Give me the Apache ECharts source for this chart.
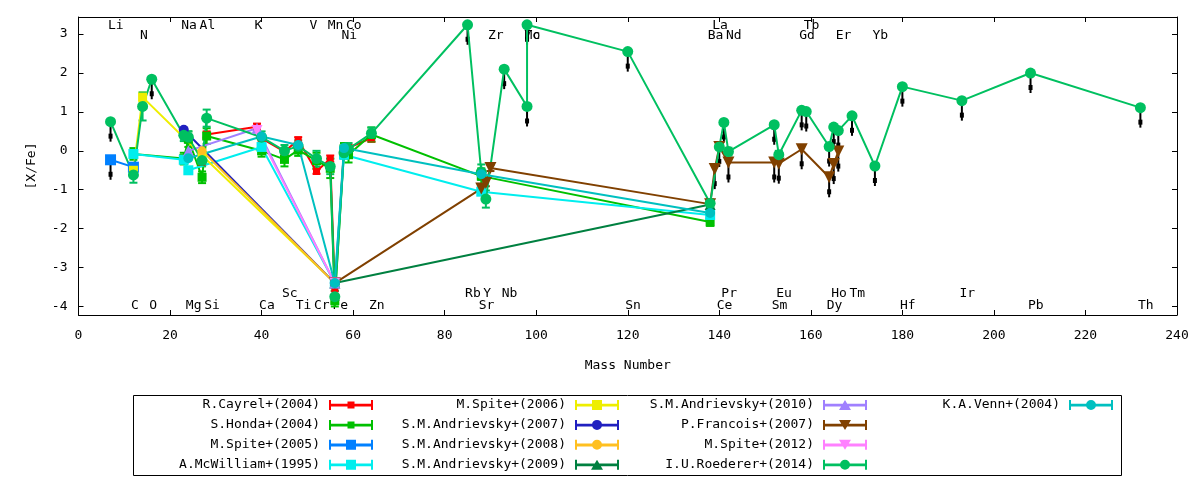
<!DOCTYPE html>
<html><head><meta charset="utf-8">
<script src="https://cdn.jsdelivr.net/npm/echarts@6/dist/echarts.min.js"></script>
<style>html,body{margin:0;padding:0;background:#fff}#c{width:1200px;height:480px}</style>
</head><body><div id="c"></div>
<script>
// ---------- element labels (mass number, label row) ----------
const elemNames = ['Li','C','N','O','Na','Mg','Al','Si','K','Ca','Sc','Ti','V','Cr','Mn','Fe','Ni','Co','Zn','Rb','Sr','Y','Zr','Nb','Mo','Tc','Sn','Ba','La','Ce','Pr','Nd','Sm','Eu','Gd','Tb','Dy','Ho','Er','Tm','Yb','Hf','Ir','Pb','Th'];
const elemMass  = [7,12,14,16,23,24,27,28,39,40,45,48,51,52,55,56,58,59,64,85,88,89,90,93,98,98,120,138,139,140,141,142,152,153,158,159,164,165,166,169,174,180,193,208,232];
const elemRow   = [0,3,1,3,0,3,0,3,0,3,2,3,0,3,0,3,1,0,3,2,3,2,1,2,1,1,3,1,0,3,2,1,3,2,1,0,3,2,1,2,1,3,2,3,3];
const rowY      = [3.22, 2.98, -3.66, -3.97];

// ---------- axis ticks ----------
const xTicks = [0,20,40,60,80,100,120,140,160,180,200,220,240];
const yTicks = [-4,-3,-2,-1,0,1,2,3];

// ---------- series values ----------
const cayrelEl  = ['Al','Si','K','Ca','Sc','Ti','Cr','Mn','Fe','Ni','Co','Zn'];
const cayrelVal = [-0.30,0.42,0.62,0.32,-0.02,0.28,-0.53,-0.20,-3.55,0.02,0.08,0.33];
const cayrelErr = [0.08,0.08,0.08,0.06,0.07,0.07,0.06,0.08,0.05,0.07,0.07,0.10];
const cayrelUL  = [];

const hondaEl  = ['C','Na','Mg','Al','Si','Ca','Sc','Ti','Cr','Mn','Fe','Ni','Co','Zn','Sr','Ba'];
const hondaVal = [-0.08,-0.20,0.30,-0.68,0.38,0.00,-0.22,0.02,-0.25,-0.45,-3.85,0.05,-0.10,0.42,-0.65,-1.83];
const hondaErr = [0.15,0.15,0.20,0.15,0.20,0.15,0.18,0.15,0.20,0.25,0.15,0.15,0.20,0.18,0.20,0.10];
const hondaUL  = [];

const spite05El  = ['Li','C'];
const spite05Val = [-0.23,-0.42];
const spite05Err = [0,0];
const spite05UL  = ['Li'];

const mcwEl  = ['C','Na','Mg','Ca','Fe','Ni','Sr','Ba'];
const mcwVal = [-0.08,-0.23,-0.50,0.10,-3.40,-0.10,-1.05,-1.65];
const mcwErr = [0.05,0.05,0.08,0.05,0,0.05,0.05,0.05];
const mcwUL  = [];

const spite06El  = ['C','N','Al','Fe'];
const spite06Val = [-0.50,1.38,-0.12,-3.40];
const spite06Err = [0.10,0.12,0.08,0];
const spite06UL  = [];

const andr07El  = ['Na','Fe'];
const andr07Val = [0.54,-3.40];
const andr08El  = ['Al','Fe'];
const andr08Val = [0.00,-3.40];
const andr09El  = ['Fe','Ba'];
const andr09Val = [-3.40,-1.38];
const andr10El  = ['Mg','K','Fe'];
const andr10Val = [0.00,0.58,-3.40];

const franEl  = ['Fe','Sr','Y','Zr','Ba','La','Ce','Nd','Sm','Eu','Gd','Dy','Ho','Er'];
const franVal = [-3.40,-0.97,-0.83,-0.44,-1.37,-0.47,0.10,-0.30,-0.30,-0.33,0.04,-0.68,-0.34,-0.02];
const franErr = [0,0.08,0.08,0.08,0.05,0,0.05,0,0,0,0,0,0,0];
const franUL  = ['La','Nd','Sm','Eu','Gd','Dy','Ho','Er'];

const spite12El  = ['K','Fe'];
const spite12Val = [0.52,-3.40];

const roedEl  = ['Li','C','N','O','Na','Mg','Al','Si','Ca','Sc','Ti','Cr','Mn','Fe','Ni','Co','Zn','Rb','Sr','Y','Nb','Mo','Tc','Sn','Ba','Ce','Pr','Nd','Sm','Eu','Gd','Tb','Dy','Ho','Er','Tm','Yb','Hf','Ir','Pb','Th'];
const roedVal = [0.75,-0.62,1.14,1.84,0.40,0.35,-0.25,0.84,0.35,0.00,0.12,-0.20,-0.40,-3.75,-0.05,0.05,0.45,3.24,-0.55,-1.24,2.10,1.14,3.24,2.55,-1.35,0.10,0.73,-0.02,0.67,-0.10,1.04,1.01,0.11,0.61,0.52,0.90,-0.39,1.65,1.29,2.00,1.11];
const roedErr = [0,0.20,0.36,0,0.15,0.15,0.15,0.22,0.15,0.15,0.15,0.20,0.20,0.15,0.15,0.15,0.15,0,0.20,0.22,0,0,0,0,0.10,0,0,0.10,0,0.10,0,0,0,0,0,0,0,0,0,0,0];
const roedUL  = ['Li','O','Rb','Nb','Mo','Tc','Sn','Ce','Pr','Sm','Gd','Tb','Dy','Ho','Er','Tm','Yb','Hf','Ir','Pb','Th'];

const vennEl  = ['Mg','Ca','Ti','Fe','Ni','Sr','Ba'];
const vennVal = [-0.19,0.37,0.15,-3.40,0.07,-0.60,-1.60];

// ---------- build ----------
const massOf = {};
elemNames.forEach((n,i)=>{ massOf[n] = elemMass[i]; });

const P_BAR = 'M0,0H2V10H0Z M42,0H44V10H42Z M0,3.8H44V6.6H0Z ';
const P_MARK = {
  small: 'M18.5,1.5H25.5V8.5H18.5Z',
  rect: 'M17,0H27V10H17Z',
  circle: 'M17,5A5,5 0 1,1 27,5A5,5 0 1,1 17,5Z',
  tri: 'M16,10L22,0L28,10Z',
  tridown: 'M16,0L28,0L22,10Z'
};
const zeros = a => a.map(()=>0);

const studies = [
  {name:'R.Cayrel+(2004)',       color:'#ff0000', el:cayrelEl,  val:cayrelVal,  err:cayrelErr, ul:cayrelUL, sym:'rect', size:7,  mark:'small'},
  {name:'S.Honda+(2004)',        color:'#00c000', el:hondaEl,   val:hondaVal,   err:hondaErr,  ul:hondaUL,  sym:'rect', size:9,  mark:'small'},
  {name:'M.Spite+(2005)',        color:'#0080ff', el:spite05El, val:spite05Val, err:spite05Err,ul:spite05UL,sym:'rect', size:11, mark:'rect'},
  {name:'A.McWilliam+(1995)',    color:'#00eeee', el:mcwEl,     val:mcwVal,     err:mcwErr,    ul:mcwUL,    sym:'rect', size:10, mark:'rect'},
  {name:'M.Spite+(2006)',        color:'#eeee00', el:spite06El, val:spite06Val, err:spite06Err,ul:spite06UL,sym:'rect', size:9,  mark:'rect'},
  {name:'S.M.Andrievsky+(2007)', color:'#2020c0', el:andr07El,  val:andr07Val,  err:zeros(andr07El), ul:[], sym:'circle', size:10, mark:'circle'},
  {name:'S.M.Andrievsky+(2008)', color:'#ffc020', el:andr08El,  val:andr08Val,  err:zeros(andr08El), ul:[], sym:'circle', size:9,  mark:'circle'},
  {name:'S.M.Andrievsky+(2009)', color:'#008040', el:andr09El,  val:andr09Val,  err:zeros(andr09El), ul:[], sym:'triangle', size:11, mark:'tri'},
  {name:'S.M.Andrievsky+(2010)', color:'#a080ff', el:andr10El,  val:andr10Val,  err:zeros(andr10El), ul:[], sym:'triangle', size:11, mark:'tri'},
  {name:'P.Francois+(2007)',     color:'#804000', el:franEl,    val:franVal,    err:franErr,   ul:franUL,   sym:'triangle', size:12, rot:180, mark:'tridown'},
  {name:'M.Spite+(2012)',        color:'#ff80ff', el:spite12El, val:spite12Val, err:zeros(spite12El), ul:[], sym:'triangle', size:11, rot:180, mark:'tridown'},
  {name:'I.U.Roederer+(2014)',   color:'#00c060', el:roedEl,    val:roedVal,    err:roedErr,   ul:roedUL,   sym:'circle', size:11, mark:'circle'},
  {name:'K.A.Venn+(2004)',       color:'#00c0c0', el:vennEl,    val:vennVal,    err:zeros(vennEl), ul:[], sym:'circle', size:10, mark:'circle'}
];

const FONT = 'DejaVu Sans Mono';

function errItem(params, api){
  const x = api.value(0), y = api.value(1), e = api.value(2);
  const t = api.coord([x, y+e]), b = api.coord([x, y-e]);
  const c = api.visual('color'), hw = 4;
  const st = {stroke:c, lineWidth:2};
  return {type:'group', children:[
    {type:'line', shape:{x1:t[0], y1:t[1], x2:b[0], y2:b[1]}, style:st},
    {type:'line', shape:{x1:t[0]-hw, y1:t[1], x2:t[0]+hw, y2:t[1]}, style:st},
    {type:'line', shape:{x1:b[0]-hw, y1:b[1], x2:b[0]+hw, y2:b[1]}, style:st}
  ]};
}
function ulItem(params, api){
  const p = api.coord([api.value(0), api.value(1)]);
  return {type:'group', children:[
    {type:'line', shape:{x1:p[0], y1:p[1], x2:p[0], y2:p[1]+20}, style:{stroke:'#000', lineWidth:2}},
    {type:'rect', shape:{x:p[0]-2, y:p[1]+12, width:4, height:5}, style:{fill:'#000'}}
  ]};
}
function labelItem(params, api){
  const p = api.coord([api.value(0), api.value(1)]);
  return {type:'text', x:p[0]-2.5, y:p[1]+0.5,
    style:{text:elemNames[params.dataIndex], fill:'#000', font:'13px "DejaVu Sans Mono"',
           align:'left', verticalAlign:'middle'}};
}

const series = [];
// element labels
series.push({
  type:'custom', name:'labels', silent:true, z:1, clip:false, animation:false,
  renderItem:labelItem,
  data: elemNames.map((n,i)=>[elemMass[i], rowY[elemRow[i]]])
});
// upper-limit arrows
const ulData = [];
studies.forEach(s=>{ s.el.forEach((e,i)=>{ if (s.ul.indexOf(e)>=0) ulData.push([massOf[e], s.val[i]]); }); });
series.push({type:'custom', name:'upper limits', renderItem:ulItem, data:ulData, silent:true, z:2, animation:false, clip:false});

studies.forEach(s=>{
  const ed = [];
  s.el.forEach((e,i)=>{ if (s.err[i]>0) ed.push([massOf[e], s.val[i], s.err[i]]); });
  if (ed.length) series.push({type:'custom', name:s.name+' err', renderItem:errItem, data:ed,
      itemStyle:{color:s.color}, silent:true, z:3, animation:false, clip:false});
  series.push({
    type:'line', name:s.name, z:3,
    data: s.el.map((e,i)=>[massOf[e], s.val[i]]),
    symbol:s.sym, symbolSize:s.size, symbolRotate:s.rot||0, showAllSymbol:true,
    itemStyle:{color:s.color, opacity:1}, lineStyle:{color:s.color, width:2},
    emphasis:{disabled:true}, animation:false, silent:true
  });
});

function legendCol(names, right){
  return {
    orient:'vertical', align:'right', right:right, top:398, padding:0,
    itemWidth:44, itemHeight:10, itemGap:5.9, selectedMode:false,
    textStyle:{color:'#000', fontFamily:FONT, fontSize:13, lineHeight:14, padding:[0,4,0,0]},
    data: names.map(n=>{ const s = studies.find(q=>q.name===n); return {name:n, icon:'path://'+P_BAR+P_MARK[s.mark]}; })
  };
}
const legends = [
  legendCol(studies.slice(0,4).map(s=>s.name), 827),
  legendCol(studies.slice(4,8).map(s=>s.name), 581),
  legendCol(studies.slice(8,12).map(s=>s.name), 333),
  legendCol(studies.slice(12).map(s=>s.name), 87)
];

function ax(extra){
  return Object.assign({
    axisLine:{show:true, onZero:false, lineStyle:{color:'#000', width:1}},
    axisTick:{show:true, inside:true, length:5, lineStyle:{color:'#000'}},
    splitLine:{show:false}
  }, extra);
}

const option = {
  backgroundColor:'#fff',
  animation:false,
  textStyle:{fontFamily:FONT},
  grid:{left:78.5, right:23, top:17, bottom:165, containLabel:false},
  graphic:[{type:'rect', shape:{x:133.5, y:395.5, width:988, height:80},
            style:{fill:'none', stroke:'#000', lineWidth:1}, silent:true}],
  legend: legends,
  xAxis:[
    ax({type:'value', position:'bottom', min:xTicks[0], max:xTicks[xTicks.length-1], interval:20,
      axisLabel:{color:'#000', fontFamily:FONT, fontSize:13, margin:14},
      name:'Mass Number', nameLocation:'middle', nameGap:44,
      nameTextStyle:{color:'#000', fontFamily:FONT, fontSize:13}}),
    ax({type:'value', position:'top', min:xTicks[0], max:xTicks[xTicks.length-1], interval:20,
      axisLabel:{show:false}})
  ],
  yAxis:[
    ax({type:'value', position:'left', min:-4.22, max:3.44,
      axisLabel:{color:'#000', fontFamily:FONT, fontSize:13, margin:11, customValues:yTicks},
      axisTick:{show:true, inside:true, length:5, lineStyle:{color:'#000'}, customValues:yTicks},
      name:'[X/Fe]', nameLocation:'middle', nameGap:40, nameRotate:90,
      nameTextStyle:{color:'#000', fontFamily:FONT, fontSize:13}}),
    ax({type:'value', position:'right', min:-4.22, max:3.44,
      axisLabel:{show:false},
      axisTick:{show:true, inside:true, length:5, lineStyle:{color:'#000'}, customValues:yTicks}})
  ],
  series: series
};

const chart = echarts.init(document.getElementById('c'), null, {renderer:'canvas'});
chart.setOption(option);
</script></body></html>
